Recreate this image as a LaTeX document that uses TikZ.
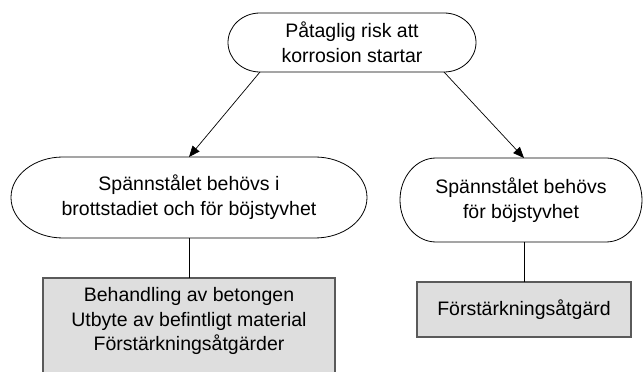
\documentclass[tikz,border=0pt]{standalone}
\usepackage{fontspec}
\setmainfont{Liberation Sans}
\usetikzlibrary{arrows.meta}
\definecolor{boxfill}{HTML}{DEDEDE}
\definecolor{boxline}{HTML}{5A5A5A}
\newcommand\stadiumpath[3]{%
  \draw[line width=0.8pt] ([xshift=#2]#1.north west) -- ([xshift=-#2]#1.north east)
    arc[start angle=90,end angle=-90,x radius=#2,y radius=#3]
    -- ([xshift=#2]#1.south west)
    arc[start angle=270,end angle=90,x radius=#2,y radius=#3] -- cycle;}
\tikzset{
  term/.style={rectangle, inner sep=0pt, outer sep=0pt, align=center,
    font=\fontsize{19.5}{25}\selectfont},
  graybox/.style={rectangle, draw=boxline, fill=boxfill, line width=1.4pt,
    inner sep=0pt, outer sep=0pt, align=center, font=\fontsize{19.5}{24.5}\selectfont},
  txt/.style={align=center, inner sep=0pt, font=\fontsize{19.5}{24.5}\selectfont},
  arr/.style={line width=0.7pt, -{Triangle[length=11pt,width=9pt]}},
  con/.style={line width=0.8pt}
}
\begin{document}
\begin{tikzpicture}[x=1pt,y=1pt]
\useasboundingbox (0,0) rectangle (643,372);
\clip (0,0) rectangle (643,372);
% top
\node[term, minimum width=248pt, minimum height=59pt] (top) at (352,329.5)
  {Påtaglig risk att\\korrosion startar};
\stadiumpath{top}{32pt}{29.5pt}
% left middle
\node[term, minimum width=356pt, minimum height=81pt] (left) at (189,174.5)
  {Spännstålet behövs i\\brottstadiet och för böjstyvhet};
\stadiumpath{left}{52pt}{40.5pt}
% right middle
\node[term, minimum width=242pt, minimum height=84pt] (right) at (521,172)
  {Spännstålet behövs\\för böjstyvhet};
\stadiumpath{right}{36pt}{42pt}
% boxes
\node[graybox, minimum width=292pt, minimum height=130pt, anchor=north] (lbox) at (189,94) {};
\node[txt] (lboxtext) at (189,51)
  {Behandling av betongen\\Utbyte av befintligt material\\Förstärkningsåtgärder};
\node[graybox, minimum width=214pt, minimum height=55pt] (rbox) at (524,62.5)
  {Förstärkningsåtgärd};
% connectors
\draw[arr] ([xshift=32pt]top.south west) -- (left.north);
\draw[arr] ([xshift=-32pt]top.south east) -- (right.north -| rbox.north);
\draw[con] (left.south) -- (lbox.north);
\draw[con] (right.south -| rbox.north) -- (rbox.north);
\end{tikzpicture}
\end{document}
